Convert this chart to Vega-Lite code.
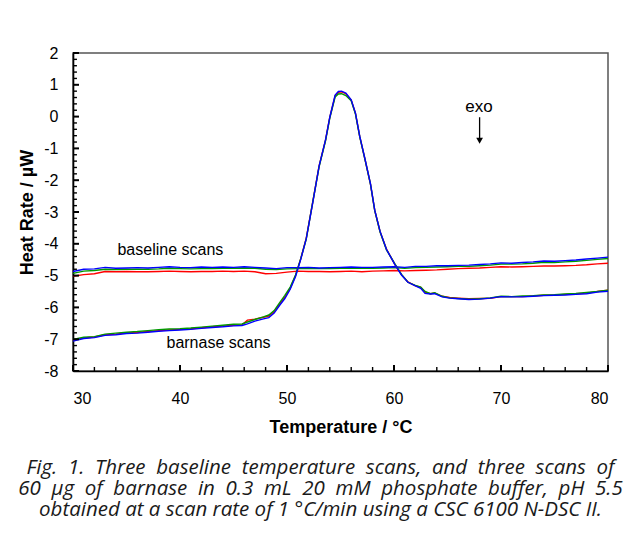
{
  "$schema": "https://vega.github.io/schema/vega-lite/v6.json",
  "width": 535,
  "height": 318,
  "autosize": {"type": "none"},
  "padding": {"left": 73, "top": 53, "right": 21, "bottom": 175},
  "background": "white",
  "config": {
    "view": {"stroke": "#555555", "strokeWidth": 1.5},
    "font": "Liberation Sans",
    "axis": {"grid": false, "labelFont": "Liberation Sans", "titleFont": "Liberation Sans", "labelColor": "black", "titleColor": "black"}
  },
  "title": {
    "text": [
      "Fig. \u00a01. \u00a0Three \u00a0baseline \u00a0temperature \u00a0scans, \u00a0and \u00a0three \u00a0scans \u00a0of",
      "60 \u00a0μg \u00a0of \u00a0barnase \u00a0in \u00a00.3 \u00a0mL \u00a020 \u00a0mM \u00a0phosphate \u00a0buffer, \u00a0pH \u00a05.5",
      "obtained at a scan rate of 1 °C/min using a CSC 6100 N-DSC II."
    ],
    "orient": "bottom",
    "anchor": "middle",
    "frame": "group",
    "dx": -20,
    "offset": 22,
    "font": "Open Sans",
    "fontSize": 20.5,
    "fontStyle": "italic",
    "fontWeight": "normal",
    "lineHeight": 21,
    "color": "#1a1a1a"
  },
  "datasets": {
    "scans": [
      {"s":"br","t":30,"v":-5.02},{"s":"br","t":31,"v":-4.97},{"s":"br","t":32,"v":-4.94},{"s":"br","t":33,"v":-4.87},{"s":"br","t":34,"v":-4.88},{"s":"br","t":35,"v":-4.87},{"s":"br","t":36,"v":-4.88},{"s":"br","t":37,"v":-4.88},{"s":"br","t":38,"v":-4.87},{"s":"br","t":39,"v":-4.86},{"s":"br","t":40,"v":-4.87},{"s":"br","t":41,"v":-4.88},{"s":"br","t":42,"v":-4.87},{"s":"br","t":43,"v":-4.87},{"s":"br","t":44,"v":-4.86},{"s":"br","t":45,"v":-4.87},{"s":"br","t":46,"v":-4.86},{"s":"br","t":47,"v":-4.88},{"s":"br","t":48,"v":-4.94},{"s":"br","t":49,"v":-4.93},{"s":"br","t":50,"v":-4.89},{"s":"br","t":51,"v":-4.86},{"s":"br","t":52,"v":-4.87},{"s":"br","t":53,"v":-4.87},{"s":"br","t":54,"v":-4.88},{"s":"br","t":55,"v":-4.87},{"s":"br","t":56,"v":-4.86},{"s":"br","t":57,"v":-4.88},{"s":"br","t":58,"v":-4.86},{"s":"br","t":59,"v":-4.85},{"s":"br","t":60,"v":-4.84},{"s":"br","t":61,"v":-4.85},{"s":"br","t":62,"v":-4.84},{"s":"br","t":63,"v":-4.83},{"s":"br","t":64,"v":-4.82},{"s":"br","t":65,"v":-4.80},{"s":"br","t":66,"v":-4.78},{"s":"br","t":67,"v":-4.77},{"s":"br","t":68,"v":-4.76},{"s":"br","t":69,"v":-4.74},{"s":"br","t":70,"v":-4.72},{"s":"br","t":71,"v":-4.73},{"s":"br","t":72,"v":-4.72},{"s":"br","t":73,"v":-4.71},{"s":"br","t":74,"v":-4.70},{"s":"br","t":75,"v":-4.70},{"s":"br","t":76,"v":-4.69},{"s":"br","t":77,"v":-4.68},{"s":"br","t":78,"v":-4.66},{"s":"br","t":79,"v":-4.63},{"s":"br","t":80,"v":-4.61},
      {"s":"bg","t":30,"v":-4.93},{"s":"bg","t":31,"v":-4.86},{"s":"bg","t":32,"v":-4.84},{"s":"bg","t":33,"v":-4.80},{"s":"bg","t":34,"v":-4.81},{"s":"bg","t":35,"v":-4.80},{"s":"bg","t":36,"v":-4.80},{"s":"bg","t":37,"v":-4.80},{"s":"bg","t":38,"v":-4.79},{"s":"bg","t":39,"v":-4.77},{"s":"bg","t":40,"v":-4.78},{"s":"bg","t":41,"v":-4.79},{"s":"bg","t":42,"v":-4.78},{"s":"bg","t":43,"v":-4.78},{"s":"bg","t":44,"v":-4.77},{"s":"bg","t":45,"v":-4.77},{"s":"bg","t":46,"v":-4.76},{"s":"bg","t":47,"v":-4.77},{"s":"bg","t":48,"v":-4.80},{"s":"bg","t":49,"v":-4.81},{"s":"bg","t":50,"v":-4.79},{"s":"bg","t":51,"v":-4.78},{"s":"bg","t":52,"v":-4.77},{"s":"bg","t":53,"v":-4.78},{"s":"bg","t":54,"v":-4.78},{"s":"bg","t":55,"v":-4.77},{"s":"bg","t":56,"v":-4.76},{"s":"bg","t":57,"v":-4.77},{"s":"bg","t":58,"v":-4.77},{"s":"bg","t":59,"v":-4.76},{"s":"bg","t":60,"v":-4.75},{"s":"bg","t":61,"v":-4.77},{"s":"bg","t":62,"v":-4.75},{"s":"bg","t":63,"v":-4.74},{"s":"bg","t":64,"v":-4.73},{"s":"bg","t":65,"v":-4.72},{"s":"bg","t":66,"v":-4.71},{"s":"bg","t":67,"v":-4.71},{"s":"bg","t":68,"v":-4.69},{"s":"bg","t":69,"v":-4.67},{"s":"bg","t":70,"v":-4.64},{"s":"bg","t":71,"v":-4.64},{"s":"bg","t":72,"v":-4.63},{"s":"bg","t":73,"v":-4.61},{"s":"bg","t":74,"v":-4.58},{"s":"bg","t":75,"v":-4.59},{"s":"bg","t":76,"v":-4.57},{"s":"bg","t":77,"v":-4.55},{"s":"bg","t":78,"v":-4.52},{"s":"bg","t":79,"v":-4.49},{"s":"bg","t":80,"v":-4.46},
      {"s":"bb","t":30,"v":-4.87},{"s":"bb","t":31,"v":-4.80},{"s":"bb","t":32,"v":-4.79},{"s":"bb","t":33,"v":-4.74},{"s":"bb","t":34,"v":-4.77},{"s":"bb","t":35,"v":-4.76},{"s":"bb","t":36,"v":-4.75},{"s":"bb","t":37,"v":-4.76},{"s":"bb","t":38,"v":-4.74},{"s":"bb","t":39,"v":-4.72},{"s":"bb","t":40,"v":-4.74},{"s":"bb","t":41,"v":-4.75},{"s":"bb","t":42,"v":-4.73},{"s":"bb","t":43,"v":-4.74},{"s":"bb","t":44,"v":-4.73},{"s":"bb","t":45,"v":-4.74},{"s":"bb","t":46,"v":-4.72},{"s":"bb","t":47,"v":-4.74},{"s":"bb","t":48,"v":-4.76},{"s":"bb","t":49,"v":-4.78},{"s":"bb","t":50,"v":-4.75},{"s":"bb","t":51,"v":-4.75},{"s":"bb","t":52,"v":-4.74},{"s":"bb","t":53,"v":-4.76},{"s":"bb","t":54,"v":-4.75},{"s":"bb","t":55,"v":-4.74},{"s":"bb","t":56,"v":-4.73},{"s":"bb","t":57,"v":-4.74},{"s":"bb","t":58,"v":-4.74},{"s":"bb","t":59,"v":-4.73},{"s":"bb","t":60,"v":-4.72},{"s":"bb","t":61,"v":-4.74},{"s":"bb","t":62,"v":-4.71},{"s":"bb","t":63,"v":-4.71},{"s":"bb","t":64,"v":-4.69},{"s":"bb","t":65,"v":-4.69},{"s":"bb","t":66,"v":-4.68},{"s":"bb","t":67,"v":-4.67},{"s":"bb","t":68,"v":-4.65},{"s":"bb","t":69,"v":-4.63},{"s":"bb","t":70,"v":-4.60},{"s":"bb","t":71,"v":-4.61},{"s":"bb","t":72,"v":-4.59},{"s":"bb","t":73,"v":-4.57},{"s":"bb","t":74,"v":-4.54},{"s":"bb","t":75,"v":-4.55},{"s":"bb","t":76,"v":-4.53},{"s":"bb","t":77,"v":-4.51},{"s":"bb","t":78,"v":-4.48},{"s":"bb","t":79,"v":-4.45},{"s":"bb","t":80,"v":-4.42},
      {"s":"sr","t":30,"v":-7.03},{"s":"sr","t":31,"v":-6.96},{"s":"sr","t":32,"v":-6.93},{"s":"sr","t":33,"v":-6.86},{"s":"sr","t":34,"v":-6.84},{"s":"sr","t":35,"v":-6.80},{"s":"sr","t":36,"v":-6.79},{"s":"sr","t":37,"v":-6.76},{"s":"sr","t":38,"v":-6.73},{"s":"sr","t":39,"v":-6.71},{"s":"sr","t":40,"v":-6.69},{"s":"sr","t":41,"v":-6.67},{"s":"sr","t":42,"v":-6.64},{"s":"sr","t":43,"v":-6.61},{"s":"sr","t":44,"v":-6.59},{"s":"sr","t":45,"v":-6.56},{"s":"sr","t":45.8,"v":-6.55},{"s":"sr","t":46.3,"v":-6.40},{"s":"sr","t":47,"v":-6.37},{"s":"sr","t":47.8,"v":-6.31},{"s":"sr","t":48.3,"v":-6.27},{"s":"sr","t":48.8,"v":-6.14},{"s":"sr","t":49.3,"v":-5.90},{"s":"sr","t":49.8,"v":-5.68},{"s":"sr","t":50.3,"v":-5.40},{"s":"sr","t":50.8,"v":-5.00},{"s":"sr","t":51.3,"v":-4.45},{"s":"sr","t":51.8,"v":-3.82},{"s":"sr","t":52.4,"v":-2.70},{"s":"sr","t":53.0,"v":-1.55},{"s":"sr","t":53.6,"v":-0.74},{"s":"sr","t":54.0,"v":-0.02},{"s":"sr","t":54.5,"v":0.66},{"s":"sr","t":54.8,"v":0.76},{"s":"sr","t":55.1,"v":0.78},{"s":"sr","t":55.5,"v":0.72},{"s":"sr","t":56.0,"v":0.52},{"s":"sr","t":56.4,"v":0.10},{"s":"sr","t":56.8,"v":-0.63},{"s":"sr","t":57.3,"v":-1.36},{"s":"sr","t":57.8,"v":-2.12},{"s":"sr","t":58.2,"v":-2.95},{"s":"sr","t":58.7,"v":-3.62},{"s":"sr","t":59.3,"v":-4.17},{"s":"sr","t":60.1,"v":-4.66},{"s":"sr","t":60.7,"v":-4.97},{"s":"sr","t":61.3,"v":-5.20},{"s":"sr","t":62.0,"v":-5.32},{"s":"sr","t":62.5,"v":-5.37},{"s":"sr","t":62.9,"v":-5.52},{"s":"sr","t":63.4,"v":-5.57},{"s":"sr","t":63.8,"v":-5.55},{"s":"sr","t":64.5,"v":-5.65},{"s":"sr","t":65.2,"v":-5.69},{"s":"sr","t":66,"v":-5.71},{"s":"sr","t":67,"v":-5.73},{"s":"sr","t":68,"v":-5.72},{"s":"sr","t":69,"v":-5.71},{"s":"sr","t":70,"v":-5.66},{"s":"sr","t":71,"v":-5.66},{"s":"sr","t":72,"v":-5.66},{"s":"sr","t":73,"v":-5.64},{"s":"sr","t":74,"v":-5.62},{"s":"sr","t":75,"v":-5.61},{"s":"sr","t":76,"v":-5.59},{"s":"sr","t":77,"v":-5.57},{"s":"sr","t":78,"v":-5.55},{"s":"sr","t":79,"v":-5.50},{"s":"sr","t":80,"v":-5.46},
      {"s":"sg","t":30,"v":-7.01},{"s":"sg","t":31,"v":-6.94},{"s":"sg","t":32,"v":-6.92},{"s":"sg","t":33,"v":-6.84},{"s":"sg","t":34,"v":-6.81},{"s":"sg","t":35,"v":-6.78},{"s":"sg","t":36,"v":-6.76},{"s":"sg","t":37,"v":-6.73},{"s":"sg","t":38,"v":-6.70},{"s":"sg","t":39,"v":-6.68},{"s":"sg","t":40,"v":-6.67},{"s":"sg","t":41,"v":-6.65},{"s":"sg","t":42,"v":-6.62},{"s":"sg","t":43,"v":-6.59},{"s":"sg","t":44,"v":-6.56},{"s":"sg","t":45,"v":-6.53},{"s":"sg","t":45.8,"v":-6.52},{"s":"sg","t":46.3,"v":-6.46},{"s":"sg","t":47,"v":-6.38},{"s":"sg","t":47.8,"v":-6.30},{"s":"sg","t":48.3,"v":-6.24},{"s":"sg","t":48.8,"v":-6.10},{"s":"sg","t":49.3,"v":-5.86},{"s":"sg","t":49.8,"v":-5.62},{"s":"sg","t":50.3,"v":-5.36},{"s":"sg","t":50.8,"v":-4.98},{"s":"sg","t":51.3,"v":-4.45},{"s":"sg","t":51.8,"v":-3.85},{"s":"sg","t":52.4,"v":-2.70},{"s":"sg","t":53.0,"v":-1.58},{"s":"sg","t":53.6,"v":-0.76},{"s":"sg","t":54.0,"v":-0.05},{"s":"sg","t":54.5,"v":0.62},{"s":"sg","t":54.8,"v":0.71},{"s":"sg","t":55.1,"v":0.72},{"s":"sg","t":55.5,"v":0.66},{"s":"sg","t":56.0,"v":0.50},{"s":"sg","t":56.4,"v":0.08},{"s":"sg","t":56.8,"v":-0.64},{"s":"sg","t":57.3,"v":-1.37},{"s":"sg","t":57.8,"v":-2.12},{"s":"sg","t":58.2,"v":-2.96},{"s":"sg","t":58.7,"v":-3.63},{"s":"sg","t":59.3,"v":-4.19},{"s":"sg","t":60.1,"v":-4.64},{"s":"sg","t":60.7,"v":-4.96},{"s":"sg","t":61.3,"v":-5.21},{"s":"sg","t":62.0,"v":-5.31},{"s":"sg","t":62.5,"v":-5.36},{"s":"sg","t":62.9,"v":-5.50},{"s":"sg","t":63.4,"v":-5.57},{"s":"sg","t":63.8,"v":-5.54},{"s":"sg","t":64.5,"v":-5.65},{"s":"sg","t":65.2,"v":-5.70},{"s":"sg","t":66,"v":-5.72},{"s":"sg","t":67,"v":-5.74},{"s":"sg","t":68,"v":-5.73},{"s":"sg","t":69,"v":-5.70},{"s":"sg","t":70,"v":-5.65},{"s":"sg","t":71,"v":-5.66},{"s":"sg","t":72,"v":-5.64},{"s":"sg","t":73,"v":-5.63},{"s":"sg","t":74,"v":-5.61},{"s":"sg","t":75,"v":-5.60},{"s":"sg","t":76,"v":-5.58},{"s":"sg","t":77,"v":-5.56},{"s":"sg","t":78,"v":-5.53},{"s":"sg","t":79,"v":-5.50},{"s":"sg","t":80,"v":-5.46},
      {"s":"sb","t":30,"v":-7.06},{"s":"sb","t":31,"v":-6.98},{"s":"sb","t":32,"v":-6.95},{"s":"sb","t":33,"v":-6.88},{"s":"sb","t":34,"v":-6.86},{"s":"sb","t":35,"v":-6.82},{"s":"sb","t":36,"v":-6.81},{"s":"sb","t":37,"v":-6.78},{"s":"sb","t":38,"v":-6.75},{"s":"sb","t":39,"v":-6.73},{"s":"sb","t":40,"v":-6.71},{"s":"sb","t":41,"v":-6.69},{"s":"sb","t":42,"v":-6.66},{"s":"sb","t":43,"v":-6.63},{"s":"sb","t":44,"v":-6.61},{"s":"sb","t":45,"v":-6.58},{"s":"sb","t":45.8,"v":-6.57},{"s":"sb","t":46.3,"v":-6.52},{"s":"sb","t":47,"v":-6.43},{"s":"sb","t":47.8,"v":-6.36},{"s":"sb","t":48.3,"v":-6.32},{"s":"sb","t":48.8,"v":-6.18},{"s":"sb","t":49.3,"v":-5.94},{"s":"sb","t":49.8,"v":-5.72},{"s":"sb","t":50.3,"v":-5.43},{"s":"sb","t":50.8,"v":-5.03},{"s":"sb","t":51.3,"v":-4.47},{"s":"sb","t":51.8,"v":-3.84},{"s":"sb","t":52.4,"v":-2.72},{"s":"sb","t":53.0,"v":-1.56},{"s":"sb","t":53.6,"v":-0.73},{"s":"sb","t":54.0,"v":-0.02},{"s":"sb","t":54.5,"v":0.68},{"s":"sb","t":54.8,"v":0.79},{"s":"sb","t":55.1,"v":0.80},{"s":"sb","t":55.5,"v":0.74},{"s":"sb","t":56.0,"v":0.53},{"s":"sb","t":56.4,"v":0.11},{"s":"sb","t":56.8,"v":-0.62},{"s":"sb","t":57.3,"v":-1.35},{"s":"sb","t":57.8,"v":-2.11},{"s":"sb","t":58.2,"v":-2.94},{"s":"sb","t":58.7,"v":-3.61},{"s":"sb","t":59.3,"v":-4.18},{"s":"sb","t":60.1,"v":-4.66},{"s":"sb","t":60.7,"v":-4.98},{"s":"sb","t":61.3,"v":-5.21},{"s":"sb","t":62.0,"v":-5.32},{"s":"sb","t":62.5,"v":-5.40},{"s":"sb","t":62.9,"v":-5.56},{"s":"sb","t":63.4,"v":-5.58},{"s":"sb","t":63.8,"v":-5.57},{"s":"sb","t":64.5,"v":-5.67},{"s":"sb","t":65.2,"v":-5.71},{"s":"sb","t":66,"v":-5.73},{"s":"sb","t":67,"v":-5.75},{"s":"sb","t":68,"v":-5.74},{"s":"sb","t":69,"v":-5.71},{"s":"sb","t":70,"v":-5.66},{"s":"sb","t":71,"v":-5.67},{"s":"sb","t":72,"v":-5.67},{"s":"sb","t":73,"v":-5.65},{"s":"sb","t":74,"v":-5.63},{"s":"sb","t":75,"v":-5.62},{"s":"sb","t":76,"v":-5.61},{"s":"sb","t":77,"v":-5.59},{"s":"sb","t":78,"v":-5.57},{"s":"sb","t":79,"v":-5.52},{"s":"sb","t":80,"v":-5.49}
    ],
    "notes": [
      {"t": 39.1, "v": -4.35, "label": "baseline scans", "size": 16},
      {"t": 43.6, "v": -7.29, "label": "barnase scans", "size": 16},
      {"t": 67.94, "v": 0.155, "label": "exo", "size": 17}
    ],
    "arrow": [
      {"t": 68.0, "v1": -0.02, "v2": -0.72, "vh": -0.76}
    ],
    "xmajor": [{"v":30},{"v":40},{"v":50},{"v":60},{"v":70},{"v":80}],
    "xminor": [{"v":32},{"v":34},{"v":36},{"v":38},{"v":42},{"v":44},{"v":46},{"v":48},{"v":52},{"v":54},{"v":56},{"v":58},{"v":62},{"v":64},{"v":66},{"v":68},{"v":72},{"v":74},{"v":76},{"v":78}],
    "ymajor": [{"v":-8},{"v":-7},{"v":-6},{"v":-5},{"v":-4},{"v":-3},{"v":-2},{"v":-1},{"v":0},{"v":1},{"v":2}],
    "yminor": [{"v":-7.8},{"v":-7.6},{"v":-7.4},{"v":-7.2},{"v":-6.8},{"v":-6.6},{"v":-6.4},{"v":-6.2},{"v":-5.8},{"v":-5.6},{"v":-5.4},{"v":-5.2},{"v":-4.8},{"v":-4.6},{"v":-4.4},{"v":-4.2},{"v":-3.8},{"v":-3.6},{"v":-3.4},{"v":-3.2},{"v":-2.8},{"v":-2.6},{"v":-2.4},{"v":-2.2},{"v":-1.8},{"v":-1.6},{"v":-1.4},{"v":-1.2},{"v":-0.8},{"v":-0.6},{"v":-0.4},{"v":-0.2},{"v":0.2},{"v":0.4},{"v":0.6},{"v":0.8},{"v":1.2},{"v":1.4},{"v":1.6},{"v":1.8}]
  },
  "resolve": {"axis": {"x": "independent", "y": "independent"}},
  "layer": [
    {
      "data": {"name": "scans"},
      "mark": {"type": "line", "strokeWidth": 1.4},
      "encoding": {
        "x": {
          "field": "t", "type": "quantitative",
          "scale": {"domain": [30, 80], "nice": false, "zero": false},
          "axis": {
            "orient": "bottom", "values": [30, 40, 50, 60, 70, 80],
            "ticks": false, "domain": true, "domainColor": "#000000", "domainWidth": 1.6,
            "labelFontSize": 16, "labelPadding": 19, "labelExpr": "toString(datum.value)",
            "title": "Temperature / °C", "titleFontSize": 18, "titleFontWeight": "bold", "titlePadding": 12
          }
        },
        "y": {
          "field": "v", "type": "quantitative",
          "scale": {"domain": [-8, 2], "nice": false, "zero": false},
          "axis": {
            "orient": "left", "values": [-8, -7, -6, -5, -4, -3, -2, -1, 0, 1, 2],
            "ticks": false, "domain": true, "domainColor": "#000000", "domainWidth": 1.6,
            "labelFontSize": 16, "labelPadding": 15, "labelExpr": "toString(datum.value)",
            "title": "Heat Rate / µW", "titleFontSize": 18, "titleFontWeight": "bold", "titlePadding": 7
          }
        },
        "color": {
          "field": "s", "type": "nominal", "legend": null,
          "scale": {"domain": ["br", "bg", "bb", "sr", "sg", "sb"], "range": ["#ff0000", "#009900", "#0000ff", "#ff0000", "#009900", "#0000ff"]}
        }
      }
    },
    {
      "data": {"name": "xmajor"},
      "mark": {"type": "rule", "color": "black", "strokeWidth": 2},
      "encoding": {
        "x": {"field": "v", "type": "quantitative", "axis": null},
        "y": {"datum": -8, "type": "quantitative", "axis": null},
        "y2": {"datum": -7.81}
      }
    },
    {
      "data": {"name": "xminor"},
      "mark": {"type": "rule", "color": "black", "strokeWidth": 1.4},
      "encoding": {
        "x": {"field": "v", "type": "quantitative", "axis": null},
        "y": {"datum": -8, "type": "quantitative", "axis": null},
        "y2": {"datum": -7.874}
      }
    },
    {
      "data": {"name": "ymajor"},
      "mark": {"type": "rule", "color": "black", "strokeWidth": 2},
      "encoding": {
        "y": {"field": "v", "type": "quantitative", "axis": null},
        "x": {"datum": 30, "type": "quantitative", "axis": null},
        "x2": {"datum": 30.56}
      }
    },
    {
      "data": {"name": "yminor"},
      "mark": {"type": "rule", "color": "black", "strokeWidth": 1.4},
      "encoding": {
        "y": {"field": "v", "type": "quantitative", "axis": null},
        "x": {"datum": 30, "type": "quantitative", "axis": null},
        "x2": {"datum": 30.37}
      }
    },
    {
      "data": {"name": "notes"},
      "mark": {"type": "text", "align": "center", "baseline": "alphabetic", "font": "Liberation Sans", "color": "black"},
      "encoding": {
        "x": {"field": "t", "type": "quantitative", "axis": null},
        "y": {"field": "v", "type": "quantitative", "axis": null},
        "text": {"field": "label"},
        "size": {"field": "size", "type": "quantitative", "scale": null}
      }
    },
    {
      "data": {"name": "arrow"},
      "mark": {"type": "rule", "color": "black", "strokeWidth": 1.3},
      "encoding": {
        "x": {"field": "t", "type": "quantitative", "axis": null},
        "y": {"field": "v1", "type": "quantitative", "axis": null},
        "y2": {"field": "v2"}
      }
    },
    {
      "data": {"name": "arrow"},
      "mark": {"type": "point", "shape": "triangle-down", "filled": true, "color": "black", "opacity": 1, "size": 45},
      "encoding": {
        "x": {"field": "t", "type": "quantitative", "axis": null},
        "y": {"field": "vh", "type": "quantitative", "axis": null}
      }
    }
  ]
}
